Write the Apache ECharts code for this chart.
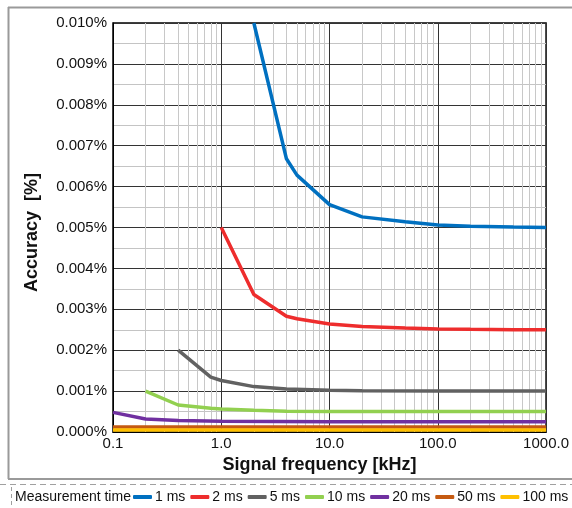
<!DOCTYPE html>
<html>
<head>
<meta charset="utf-8">
<script src="https://cdn.jsdelivr.net/npm/echarts@6/dist/echarts.min.js"></script>
<style>
  html, body { margin: 0; padding: 0; background: #fff; }
  #chart { width: 572px; height: 508px; }
</style>
</head>
<body>
<div id="chart"></div>
<script>
  // frequencies in kHz, accuracy in %
  const names = ['1 ms', '2 ms', '5 ms', '10 ms', '20 ms', '50 ms', '100 ms']
  const colors = ['#0070c0', '#ee2d2d', '#616161', '#92d050', '#7030a0', '#c55a11', '#ffc000']

  const freq1 = [2, 4, 5, 10, 20, 50, 100, 200, 500, 1000]
  const acc1 = [0.0100, 0.00668, 0.00628, 0.00556, 0.00526, 0.00514, 0.00506, 0.00503, 0.00501, 0.0050]

  const freq2 = [1, 2, 4, 5, 10, 20, 50, 100, 200, 500, 1000]
  const acc2 = [0.0050, 0.00336, 0.00283, 0.00277, 0.00264, 0.00258, 0.00254, 0.00252, 0.00251, 0.0025, 0.0025]

  const freq5 = [0.4, 0.8, 1, 2, 4, 10, 20, 100, 1000]
  const acc5 = [0.0020, 0.00134, 0.00126, 0.00111, 0.00105, 0.00102, 0.00101, 0.0010, 0.0010]

  const freq10 = [0.2, 0.4, 0.8, 1, 2, 4, 10, 100, 1000]
  const acc10 = [0.0010, 0.00066, 0.00058, 0.00056, 0.00053, 0.00051, 0.0005, 0.0005, 0.0005]

  const freq20 = [0.1, 0.2, 0.4, 1, 10, 1000]
  const acc20 = [0.00048, 0.00032, 0.00028, 0.00026, 0.00025, 0.00025]

  const freq50 = [0.1, 1000]
  const acc50 = [0.00012, 0.00012]

  const freq100 = [0.1, 1000]
  const acc100 = [0.00005, 0.00005]

  const xTicks = [0.1, 1, 10, 100, 1000]
  const yMin = 0, yMax = 0.010, yStep = 0.001

  const freqs = [freq1, freq2, freq5, freq10, freq20, freq50, freq100]
  const accs = [acc1, acc2, acc5, acc10, acc20, acc50, acc100]

  // minor log grid 2..9 per decade
  const minorX = []
  for (let d = 0; d < xTicks.length - 1; d++) {
    for (let k = 2; k <= 9; k++) minorX.push({xAxis: xTicks[d] * k})
  }

  const target = document.getElementById('chart')
  const mChart = echarts.init(target)

  const series = names.map((n, i) => ({
    name: n,
    type: 'line',
    data: freqs[i].map((f, j) => [f, accs[i][j]]),
    showSymbol: false,
    symbol: 'none',
    lineStyle: { width: 3.5, color: colors[i] },
    itemStyle: { color: colors[i] },
    z: 3,
    animation: false
  }))

  series.push({
    name: 'grid',
    type: 'line',
    data: [],
    silent: true,
    markLine: {
      silent: true,
      symbol: 'none',
      z: 1,
      animation: false,
      label: { show: false },
      lineStyle: { color: '#c8c8c8', width: 1, type: 'solid' },
      data: minorX
    }
  })

  const option = {
    animation: false,
    textStyle: { fontFamily: 'Liberation Sans, Arial, sans-serif' },
    graphic: [
      { type: 'line', shape: { x1: 8, y1: 7.5, x2: 572, y2: 7.5 }, style: { stroke: '#9a9a9a', lineWidth: 2 } },
      { type: 'line', shape: { x1: 8.5, y1: 7, x2: 8.5, y2: 479 }, style: { stroke: '#9a9a9a', lineWidth: 2 } },
      { type: 'line', shape: { x1: 8, y1: 479, x2: 572, y2: 479 }, style: { stroke: '#9a9a9a', lineWidth: 2 } },
      { type: 'line', shape: { x1: 0, y1: 484.5, x2: 572, y2: 484.5 }, style: { stroke: '#a0a0a0', lineWidth: 1, lineDash: [6, 4] } },
      { type: 'line', shape: { x1: 11.5, y1: 487, x2: 11.5, y2: 508 }, style: { stroke: '#a0a0a0', lineWidth: 1, lineDash: [4, 3] } },
      { type: 'text', left: 15, top: 490, style: { text: 'Measurement time', fontSize: 14, fill: '#111', fontFamily: 'Liberation Sans, Arial, sans-serif' } }
    ],
    legend: {
      data: names,
      left: 133,
      top: 490,
      itemWidth: 19,
      itemHeight: 4,
      itemGap: 5,
      icon: 'roundRect',
      padding: 0,
      textStyle: { fontSize: 14, color: '#111', padding: [0, 0, 0, -2] }
    },
    grid: {
      left: 113,
      right: 23,
      top: 23,
      bottom: 76,
      show: true,
      borderColor: '#000',
      borderWidth: 1.5,
      containLabel: false
    },
    xAxis: {
      type: 'log',
      logBase: 10,
      min: 0.1,
      max: 1000,
      name: 'Signal frequency [kHz]',
      nameLocation: 'middle',
      nameGap: 23,
      nameTextStyle: { fontSize: 18, fontWeight: 'bold', color: '#111', padding: [0, 20, 0, 0] },
      axisLine: { lineStyle: { color: '#000', width: 1 } },
      axisTick: { show: false },
      axisLabel: {
        fontSize: 15,
        color: '#111',
        margin: 4,
        formatter: (v) => Number(v).toFixed(1)
      },
      splitLine: { show: true, lineStyle: { color: '#333', width: 1 } }
    },
    yAxis: {
      type: 'value',
      min: yMin,
      max: yMax,
      interval: yStep,
      name: 'Accuracy  [%]',
      nameLocation: 'middle',
      nameGap: 80,
      nameTextStyle: { fontSize: 18, fontWeight: 'bold', color: '#111', padding: [0, 10, -8, 0] },
      axisLine: { show: true, lineStyle: { color: '#000', width: 1 } },
      axisTick: { show: false },
      axisLabel: {
        fontSize: 15,
        color: '#111',
        margin: 6,
        formatter: (v) => v.toFixed(3) + '%'
      },
      splitLine: { show: true, lineStyle: { color: '#333', width: 1 } },
      minorTick: { show: false, splitNumber: 2 },
      minorSplitLine: { show: true, lineStyle: { color: '#c4c4c4', width: 1 } }
    },
    series: series
  }

  mChart.setOption(option)
  window.addEventListener('resize', function() {
    mChart.resize()
  })
</script>
</body>
</html>
